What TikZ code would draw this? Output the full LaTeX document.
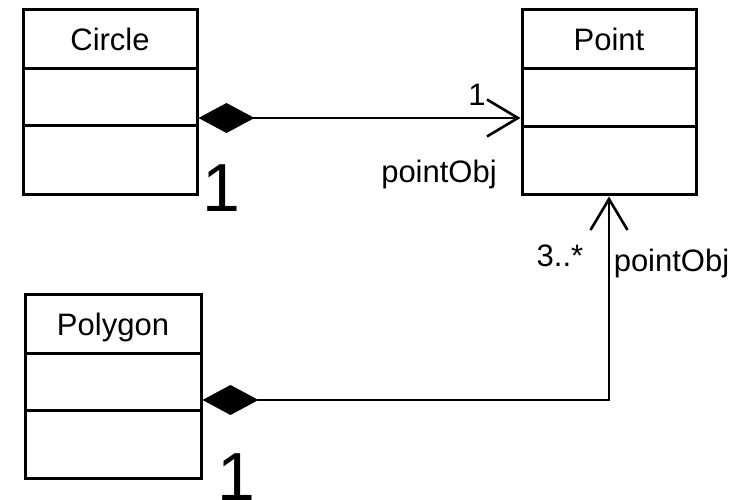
\documentclass[tikz,border=0pt]{standalone}
\usepackage{fontspec}
\setmainfont{Liberation Sans}
\usetikzlibrary{arrows.meta}
\tikzstyle{classhead} = [rectangle, minimum width=174pt, minimum height=59pt, text centered, text height=22pt, text depth=0pt, inner sep=0pt, draw=black, line width=3pt, font=\fontsize{31}{37}\selectfont]
\tikzstyle{compart} = [rectangle, minimum width=174pt, inner sep=0pt, draw=black, line width=3pt]
\tikzstyle{lbl} = [inner sep=0pt, anchor=base, font=\fontsize{31}{37}\selectfont]
\tikzstyle{bigone} = [inner sep=0pt, anchor=base, font=\fontsize{68}{80}\selectfont]
\tikzstyle{assoc} = [line width=2.6pt, {Diamond[length=56pt,width=30pt]}-{Straight Barb[length=31pt,width=37pt]}]

\begin{document}
\begin{tikzpicture}[x=1pt, y=1pt]
\useasboundingbox (0,0) rectangle (732,500);

%% NODES

\node (circle_h) [classhead] at (110,460.5) {Circle};
\node (circle_a) [compart, minimum height=57pt, below of=circle_h, node distance=58pt] {};
\node (circle_o) [compart, minimum height=69pt, below of=circle_a, node distance=63pt] {};

\node (point_h) [classhead, right of=circle_h, node distance=499pt] {Point};
\node (point_a) [compart, minimum height=58pt, below of=point_h, node distance=58.5pt] {};
\node (point_o) [compart, minimum height=68pt, below of=point_a, node distance=63pt] {};

\node (polygon_h) [classhead, minimum width=176pt, below of=circle_h, node distance=285pt, xshift=3pt] {Polygon};
\node (polygon_a) [compart, minimum width=176pt, minimum height=57pt, below of=polygon_h, node distance=58pt] {};
\node (polygon_o) [compart, minimum width=176pt, minimum height=68pt, below of=polygon_a, node distance=62.5pt] {};

\node (m1_label) [lbl] at (477,394) {1};
\node (role1_label) [lbl] at (439,317) {pointObj};
\node (m2_label) [lbl] at (560,233) {3..*};
\node (role2_label) [lbl] at (671.5,228) {pointObj};
\node (one1_label) [bigone] at (221.5,288) {1};
\node (one2_label) [bigone] at (236.5,-1) {1};

%% ARROWS

\draw [assoc] ([yshift=9.5pt]circle_a.south east) -- ([yshift=10.5pt]point_a.south west);
\draw [assoc] ([yshift=12.5pt]polygon_a.south east) -| (point_o.south);
\end{tikzpicture}
\end{document}
